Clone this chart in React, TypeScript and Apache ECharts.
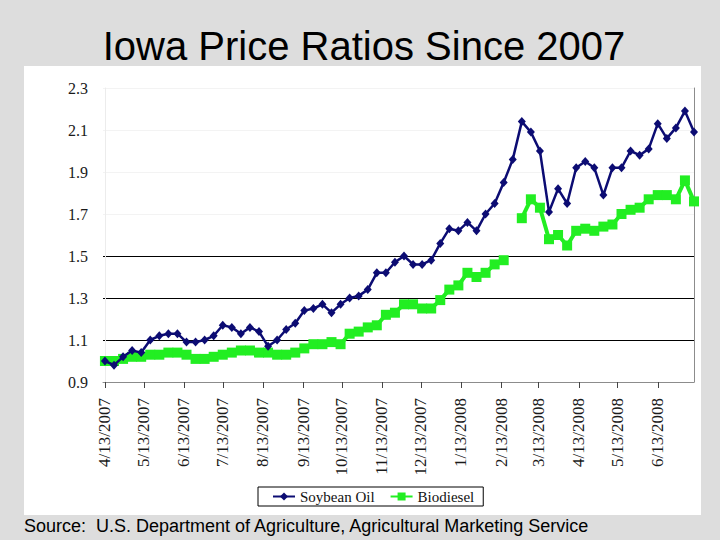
import React, { useEffect, useRef } from 'react';
import * as echarts from 'echarts';

// Weekly observations (Fridays) starting 4/13/2007
const FIRST_WEEK = '2007-04-13';
const WEEK_COUNT = 66;

const SOYBEAN_OIL = [
  1.0, 0.98, 1.02, 1.05, 1.04, 1.1, 1.12, 1.13, 1.13, 1.09,
  1.09, 1.1, 1.12, 1.17, 1.16, 1.13, 1.16, 1.14, 1.07, 1.1,
  1.15, 1.18, 1.24, 1.25, 1.27, 1.23, 1.27, 1.3, 1.31, 1.34,
  1.42, 1.42, 1.47, 1.5, 1.46, 1.46, 1.48, 1.56, 1.63, 1.62,
  1.66, 1.62, 1.7, 1.75, 1.85, 1.96, 2.14, 2.09, 2.0, 1.71,
  1.82, 1.75, 1.92, 1.95, 1.92, 1.79, 1.92, 1.92, 2.0, 1.98,
  2.01, 2.13, 2.06, 2.11, 2.19, 2.09,
];

const BIODIESEL: (number | null)[] = [
  1.0, 1.0, 1.01, 1.02, 1.02, 1.03, 1.03, 1.04, 1.04, 1.03,
  1.01, 1.01, 1.02, 1.03, 1.04, 1.05, 1.05, 1.04, 1.04, 1.03,
  1.03, 1.04, 1.06, 1.08, 1.08, 1.09, 1.08, 1.13, 1.14, 1.16,
  1.17, 1.22, 1.23, 1.27, 1.27, 1.25, 1.25, 1.29, 1.34, 1.36,
  1.42, 1.4, 1.42, 1.46, 1.48, null, 1.68, 1.77, 1.73, 1.58,
  1.6, 1.55, 1.62, 1.63, 1.62, 1.64, 1.65, 1.7, 1.72, 1.73,
  1.77, 1.79, 1.79, 1.77, 1.86, 1.76,
];

const TICK_LABELS = [
  '4/13/2007', '5/13/2007', '6/13/2007', '7/13/2007', '8/13/2007',
  '9/13/2007', '10/13/2007', '11/13/2007', '12/13/2007', '1/13/2008',
  '2/13/2008', '3/13/2008', '4/13/2008', '5/13/2008', '6/13/2008',
];

const SERIES_NAMES = ['Soybean Oil', 'Biodiesel'];
const Y_MIN = 0.9;
const Y_MAX = 2.3;
const Y_STEP = 0.2;

const DAY = 86400000;

function parseISO(s: string) {
  const [y, m, d] = s.split('-').map(Number);
  return Date.UTC(y, m - 1, d);
}
function parseMDY(s: string) {
  const [m, d, y] = s.split('/').map(Number);
  return Date.UTC(y, m - 1, d);
}

const T0 = parseISO(FIRST_WEEK);
// x positions measured in days since the first weekly observation
const WEEK_DAYS = Array.from({ length: WEEK_COUNT }, (_, i) => i * 7);
const TICK_DAYS = TICK_LABELS.map((s) => Math.round((parseMDY(s) - T0) / DAY));

export default function App() {
  const ref = useRef<HTMLDivElement>(null);

  useEffect(() => {
    if (!ref.current) return;
    const chart = echarts.init(ref.current, undefined, { renderer: 'svg' });
    const serif = "'Liberation Serif', 'Times New Roman', serif";
    const sans = "'Liberation Sans', Arial, sans-serif";

    chart.setOption({
      animation: false,
      backgroundColor: '#dddddd',
      graphic: [
        {
          type: 'rect',
          z: -100,
          silent: true,
          shape: { x: 24, y: 66, width: 677, height: 449 },
          style: { fill: '#ffffff' },
        },
        {
          type: 'text',
          x: 364,
          y: 26,
          silent: true,
          style: {
            text: 'Iowa Price Ratios Since 2007',
            font: `40px ${sans}`,
            fill: '#000000',
            align: 'center',
            verticalAlign: 'top',
          },
        },
        {
          type: 'text',
          x: 24,
          y: 517,
          silent: true,
          style: {
            text: 'Source:\u00a0 U.S. Department of Agriculture, Agricultural Marketing Service',
            font: `18px ${sans}`,
            fill: '#000000',
            align: 'left',
            verticalAlign: 'top',
          },
        },
      ],
      grid: { left: 103, right: 26, top: 88, bottom: 158, containLabel: false },
      legend: {
        data: SERIES_NAMES,
        left: 258,
        top: 487,
        orient: 'horizontal',
        backgroundColor: '#ffffff',
        borderColor: '#000000',
        borderWidth: 1,
        borderRadius: 0,
        padding: [2, 9, 2, 14],
        itemWidth: 22,
        itemHeight: 10,
        itemGap: 15,
        textStyle: { fontFamily: serif, fontSize: 15, color: '#111111' },
      },
      xAxis: {
        type: 'value',
        min: -1.5,
        max: WEEK_DAYS[WEEK_DAYS.length - 1],
        axisLine: { show: true, lineStyle: { color: '#8c8c8c', width: 1 } },
        axisTick: {
          show: true,
          customValues: TICK_DAYS,
          length: 6,
          lineStyle: { color: '#444444' },
        },
        axisLabel: {
          customValues: TICK_DAYS,
          rotate: 90,
          margin: 16,
          fontFamily: serif,
          fontSize: 17,
          color: '#1a1a1a',
          showMinLabel: true,
          showMaxLabel: true,
          formatter: (v: number) => {
            const i = TICK_DAYS.indexOf(Math.round(v));
            return i >= 0 ? TICK_LABELS[i] : '';
          },
        },
        splitLine: { show: false },
      },
      yAxis: [
        {
          type: 'value',
          min: Y_MIN,
          max: Y_MAX,
          interval: Y_STEP,
          axisLine: { show: true, lineStyle: { color: '#ececec' } },
          axisTick: { show: false },
          axisLabel: {
            margin: 15,
            fontFamily: serif,
            fontSize: 16,
            color: '#1a1a1a',
            formatter: (v: number) => v.toFixed(1),
          },
          splitLine: {
            show: true,
            lineStyle: {
              color: ['#8c8c8c', '#000000', '#000000', '#000000', '#f3f3f3', '#f3f3f3', '#f3f3f3', '#f3f3f3'],
              width: 1,
            },
          },
        },
        {
          type: 'value',
          position: 'right',
          min: Y_MIN,
          max: Y_MAX,
          interval: Y_STEP,
          axisLine: { show: true, lineStyle: { color: '#8c8c8c' } },
          axisTick: { show: false },
          axisLabel: { show: false },
          splitLine: { show: false },
        },
      ],
      series: [
        {
          name: SERIES_NAMES[0],
          type: 'line',
          yAxisIndex: 0,
          data: SOYBEAN_OIL.map((v, i) => [WEEK_DAYS[i], v]),
          symbol: 'diamond',
          symbolSize: [8, 9],
          showAllSymbol: true,
          lineStyle: { color: '#0c0c73', width: 2.5 },
          itemStyle: { color: '#0c0c73' },
          z: 3,
        },
        {
          name: SERIES_NAMES[1],
          type: 'line',
          yAxisIndex: 0,
          data: BIODIESEL.map((v, i) => [WEEK_DAYS[i], v === null ? '-' : v]),
          symbol: 'rect',
          symbolSize: 10,
          showAllSymbol: true,
          connectNulls: false,
          lineStyle: { color: '#22ee22', width: 4 },
          itemStyle: { color: '#22ee22' },
          z: 2,
        },
      ],
    });

    return () => chart.dispose();
  }, []);

  return (
    <div
      ref={ref}
      style={{ position: 'fixed', left: 0, top: 0, width: 720, height: 540 }}
    />
  );
}
